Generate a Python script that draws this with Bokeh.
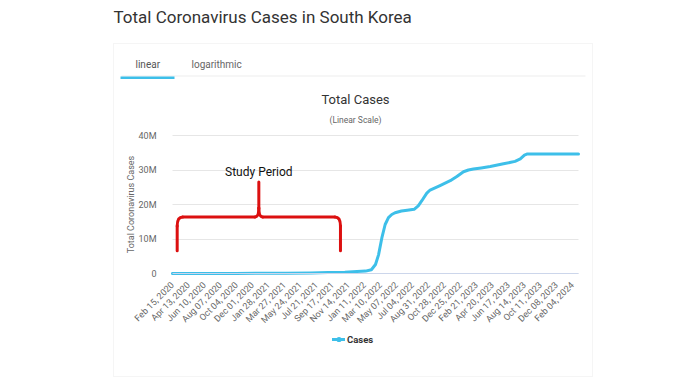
import math
import pandas as pd
from bokeh.plotting import figure
from bokeh.models import (Range1d, FixedTicker, DatetimeTickFormatter, Label,
                          BoxAnnotation, Legend, LegendItem, ColumnDataSource)
from bokeh.embed import file_html
from bokeh.resources import INLINE

# ---------------- data ----------------
page_title = "Total Coronavirus Cases in South Korea"
tab_labels = ["linear", "logarithmic"]
chart_title = "Total Cases"
chart_subtitle = "(Linear Scale)"
y_axis_title = "Total Coronavirus Cases"
series_name = "Cases"

dates = ["2020-02-15", "2020-06-01", "2020-10-01", "2021-01-01", "2021-04-01",
         "2021-07-01", "2021-09-01", "2021-11-01", "2021-12-15", "2022-01-15",
         "2022-02-05", "2022-02-20", "2022-03-03", "2022-03-15", "2022-03-27",
         "2022-04-08", "2022-04-20", "2022-05-02", "2022-05-25", "2022-06-15",
         "2022-07-10", "2022-07-25", "2022-08-07", "2022-08-25", "2022-09-06",
         "2022-10-12", "2022-11-18", "2022-12-12", "2023-01-05", "2023-01-23",
         "2023-02-10", "2023-03-10", "2023-04-12", "2023-05-30", "2023-07-11",
         "2023-07-30", "2023-08-14", "2023-08-25", "2024-02-26"]
cases_millions = [0.0, 0.012, 0.025, 0.062, 0.105,
                  0.16, 0.26, 0.37, 0.55, 0.70,
                  1.1, 2.6, 5.4, 10.3, 14.2,
                  16.2, 17.1, 17.6, 18.1, 18.35,
                  18.6, 19.6, 21.1, 23.3, 24.2,
                  25.5, 26.9, 28.1, 29.5, 30.0,
                  30.3, 30.6, 31.0, 31.8, 32.5,
                  33.2, 34.3, 34.65, 34.65]

x_tick_labels = ["Feb 15, 2020", "Apr 13, 2020", "Jun 10, 2020", "Aug 07, 2020",
                 "Oct 04, 2020", "Dec 01, 2020", "Jan 28, 2021", "Mar 27, 2021",
                 "May 24, 2021", "Jul 21, 2021", "Sep 17, 2021", "Nov 14, 2021",
                 "Jan 11, 2022", "Mar 10, 2022", "May 07, 2022", "Jul 04, 2022",
                 "Aug 31, 2022", "Oct 28, 2022", "Dec 25, 2022", "Feb 21, 2023",
                 "Apr 20, 2023", "Jun 17, 2023", "Aug 14, 2023", "Oct 11, 2023",
                 "Dec 08, 2023", "Feb 04, 2024"]
y_ticks_millions = [0, 10, 20, 30, 40]
y_tick_labels = ["0", "10M", "20M", "30M", "40M"]

study_label = "Study Period"
study_start = "2020-03-03"
study_end = "2021-10-16"
brace_bottom_m = 6.6
brace_arm_m = 16.4
brace_tip_m = 26.5
study_label_m = 29.3

# ---------------- styles / layout ----------------
BLUE = "#3dbfe9"
RED = "#dc1010"
FONT = "Roboto"
ORIGIN = 0                      # page offset of the canvas
W, H = 690, 388
PLOT_L, PLOT_R = 172, 578       # page px of the data area
PLOT_T, PLOT_B = 135, 273


def sx(X):  # page px -> screen units (from canvas bottom-left)
    return X - ORIGIN


def sy(Y):
    return ORIGIN + H - Y


x = pd.to_datetime(dates)
y = [v * 1e6 for v in cases_millions]
src = ColumnDataSource(dict(x=x, y=y))

x0_ms, x1_ms = x[0].value / 1e6, x[-1].value / 1e6
ymax = y_ticks_millions[-1] * 1e6
mspp = (x1_ms - x0_ms) / (PLOT_R - PLOT_L)
vpp = ymax / (PLOT_B - PLOT_T)
x_range = Range1d(x0_ms - (PLOT_L - ORIGIN) * mspp, x1_ms + (ORIGIN + W - PLOT_R) * mspp)
y_range = Range1d(-(ORIGIN + H - PLOT_B) * vpp, ymax + (PLOT_T - ORIGIN) * vpp)

p = figure(width=W, height=H, x_axis_type="datetime",
           output_backend="svg", toolbar_location=None,
           x_range=x_range, y_range=y_range, min_border=0)
p.title.visible = False
p.outline_line_color = None
p.background_fill_color = "white"
p.border_fill_color = "white"
p.xgrid.grid_line_color = None
p.ygrid.grid_line_color = "#e6e6e6"
p.ygrid.cross_bounds = (x0_ms, x1_ms)

# y axis
yt = [v * 1e6 for v in y_ticks_millions]
p.yaxis.fixed_location = x0_ms
p.yaxis.bounds = (0, ymax)
p.yaxis.ticker = FixedTicker(ticks=yt)
p.yaxis.major_label_overrides = {t: l for t, l in zip(yt, y_tick_labels)}
p.yaxis.axis_line_color = None
p.yaxis.major_tick_line_color = None
p.yaxis.minor_tick_line_color = None
p.yaxis.major_label_standoff = 10
p.yaxis.major_label_text_font = FONT
p.yaxis.major_label_text_font_size = "9px"
p.yaxis.major_label_text_color = "#666666"
p.yaxis.axis_label = y_axis_title
p.yaxis.axis_label_text_font = FONT
p.yaxis.axis_label_text_font_size = "9px"
p.yaxis.axis_label_text_font_style = "normal"
p.yaxis.axis_label_text_color = "#666666"
p.yaxis.axis_label_standoff = 0

# x axis
xt = pd.to_datetime(x_tick_labels, format="%b %d, %Y")
p.xaxis.fixed_location = 0
p.xaxis.bounds = (x0_ms, x1_ms)
p.xaxis.ticker = FixedTicker(ticks=[t.value / 1e6 for t in xt])
fmt = "%b %d, %Y"
p.xaxis.formatter = DatetimeTickFormatter(milliseconds=fmt, seconds=fmt, minsec=fmt,
                                          minutes=fmt, hourmin=fmt, hours=fmt,
                                          days=fmt, months=fmt, years=fmt)
p.xaxis.major_label_orientation = math.pi / 4
p.xaxis.major_label_text_font = FONT
p.xaxis.major_label_text_font_size = "9px"
p.xaxis.major_label_text_color = "#666666"
p.xaxis.major_label_standoff = 4
p.xaxis.axis_line_color = "#ccd6eb"
p.xaxis.major_tick_line_color = None
p.xaxis.minor_tick_line_color = None

# page decorations
def sbox(**kw):
    return BoxAnnotation(left_units="screen", right_units="screen",
                         top_units="screen", bottom_units="screen", **kw)


p.add_layout(sbox(left=sx(113), right=sx(592), top=sy(43), bottom=sy(376),
                  fill_color=None, line_color="#dddddd", line_width=1, level="underlay"))
p.add_layout(sbox(left=sx(121), right=sx(585), top=sy(75), bottom=sy(76),
                  fill_color="#eeeeee", fill_alpha=1, line_color=None, level="underlay"))
p.add_layout(sbox(left=sx(120), right=sx(174), top=sy(76), bottom=sy(78.5),
                  fill_color=BLUE, fill_alpha=1, line_color=None, level="underlay"))

# series
line_r = p.line("x", "y", source=src, line_color=BLUE, line_width=3,
                line_join="round", line_cap="round")
dot_r = p.scatter("x", "y", source=src, size=0, fill_color=BLUE, line_color=None)

legend = Legend(items=[LegendItem(label=series_name, renderers=[line_r, dot_r])],
                location=(sx(332), sy(339) - 7), orientation="horizontal",
                padding=0, margin=0, glyph_width=13, glyph_height=14,
                label_standoff=2, label_text_font=FONT, label_text_font_size="9.5px",
                label_text_font_style="bold", label_text_color="#333333",
                background_fill_alpha=0, border_line_color=None)
p.add_layout(legend)

# study period brace
t0 = pd.Timestamp(study_start)
t1 = pd.Timestamp(study_end)
tc = t0 + (t1 - t0) / 2
L, R, C = t0.value / 1e6, t1.value / 1e6, tc.value / 1e6
DAY = 86400000
hx, tx, cv = 20 * DAY, 14 * DAY, 2.6e6
lo, arm, tip = brace_bottom_m * 1e6, brace_arm_m * 1e6, brace_tip_m * 1e6
p.multi_line(xs=[[L, L], [L + hx, C - tx], [C, C], [C + tx, R - hx], [R, R]],
             ys=[[lo, arm - cv], [arm, arm], [arm + cv, tip], [arm, arm], [arm - cv, lo]],
             line_color=RED, line_width=3, line_cap="round")
p.quadratic(x0=[L, C - tx, C + tx, R - hx], y0=[arm - cv, arm, arm, arm],
            x1=[L + hx, C, C, R], y1=[arm, arm + cv, arm + cv, arm - cv],
            cx=[L, C, C, R], cy=[arm, arm, arm, arm],
            line_color=RED, line_width=3, line_cap="round")
p.add_layout(Label(x=C, y=study_label_m * 1e6, text=study_label, text_align="center",
                   text_baseline="middle", text_font=FONT, text_font_size="12px",
                   text_color="#111111"))

# texts
def slabel(X, Y, text, size, color, align="left"):
    return Label(x=sx(X), y=sy(Y), x_units="screen", y_units="screen", text=text,
                 text_align=align, text_baseline="middle", text_font=FONT,
                 text_font_size=size, text_color=color)


p.add_layout(slabel(113, 16, page_title, "17px", "#333333"))
p.add_layout(slabel(135, 64, tab_labels[0], "10px", "#555555"))
p.add_layout(slabel(191, 64, tab_labels[1], "10px", "#666666"))
p.add_layout(slabel(355, 99, chart_title, "13px", "#333333", "center"))
p.add_layout(slabel(355, 119, chart_subtitle, "8.5px", "#666666", "center"))

open("out.html", "w").write(file_html(p, INLINE))
